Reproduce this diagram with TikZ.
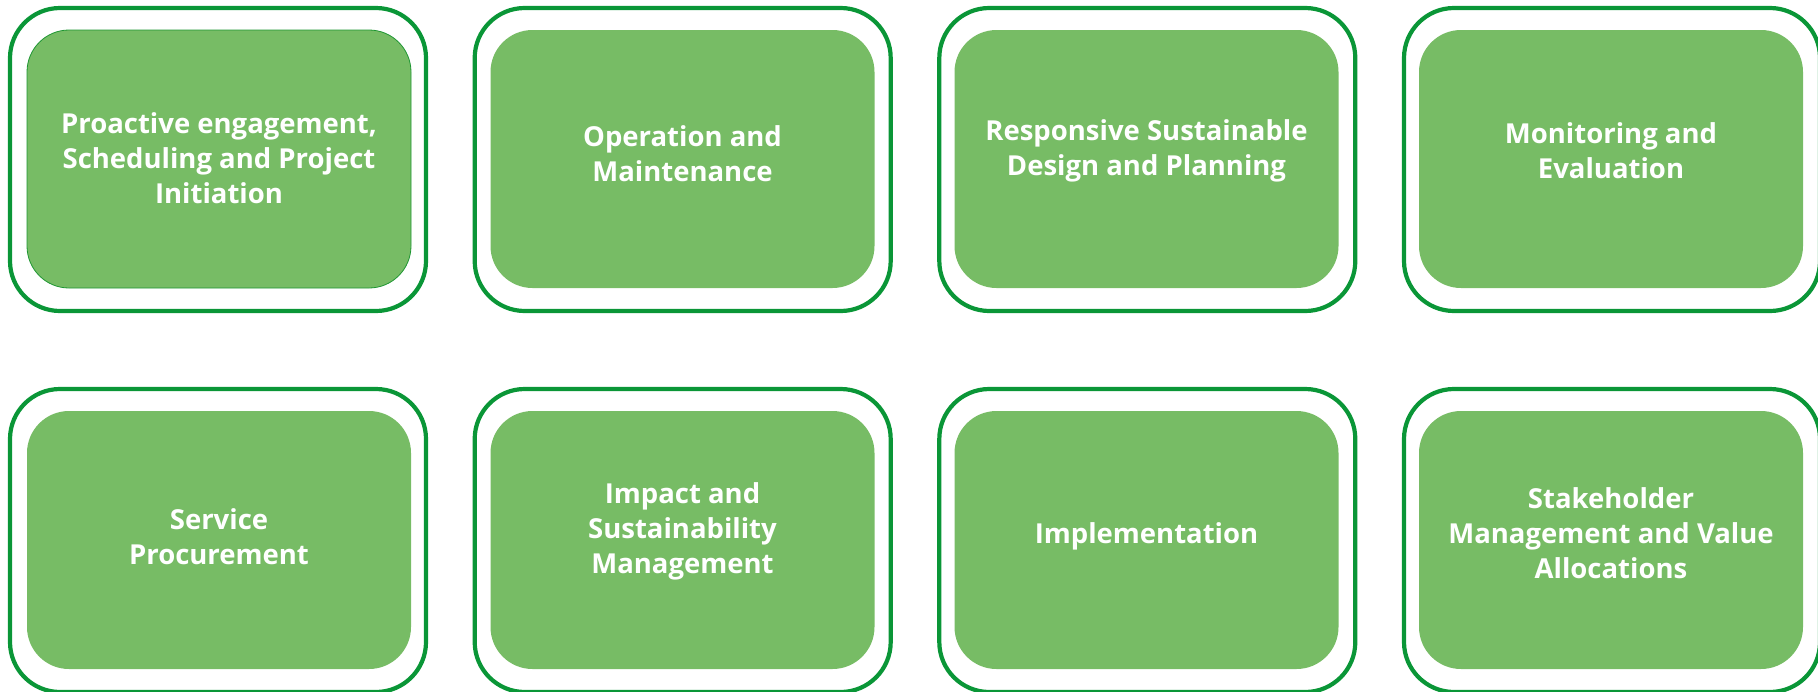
\documentclass[tikz,border=0pt]{standalone}
\usepackage{fontspec}
\setmainfont{Open Sans}
\definecolor{boxfill}{RGB}{119,188,101}
\definecolor{ringgreen}{RGB}{10,150,55}
\definecolor{edgegreen}{RGB}{30,150,50}
\begin{document}
\begin{tikzpicture}[x=1pt,y=-1pt,
  ring/.style={draw=ringgreen,line width=4.2pt,rounded corners=50pt,minimum width=416pt,minimum height=303pt,inner sep=0pt,outer sep=0pt},
  card/.style={fill=boxfill,draw=none,rounded corners=42pt,minimum width=384pt,minimum height=258pt,inner sep=0pt,outer sep=0pt},
  label/.style={text=white,font=\fontsize{27.5}{35}\selectfont\bfseries,align=center,inner sep=0pt}]
\useasboundingbox (0,0) rectangle (1818,691);
% row 1
\node[ring] (r1) at (218,159.5) {};
\node[card,draw=edgegreen,line width=0.8pt] (c1) at (219,159) {};
\node[label] (t1) at (219,158) {Proactive engagement,\\Scheduling and Project\\Initiation};
\node[ring] (r2) at (682.7,159.5) {};
\node[card] (c2) at (682.5,159) {};
\node[label] (t2) at (682.5,153.5) {Operation and\\Maintenance};
\node[ring] (r3) at (1147.3,159.5) {};
\node[card] (c3) at (1146.5,159) {};
\node[label] (t3) at (1146.5,151) {Responsive Sustainable\\Design and Planning};
\node[ring] (r4) at (1612,159.5) {};
\node[card] (c4) at (1611,159) {};
\node[label] (t4) at (1611,151) {Monitoring and\\Evaluation};
% row 2
\node[ring] (r5) at (218,540.5) {};
\node[card] (c5) at (219,540) {};
\node[label] (t5) at (219,537) {Service\\Procurement};
\node[ring] (r6) at (682.7,540.5) {};
\node[card] (c6) at (682.5,540) {};
\node[label] (t6) at (682.5,531) {Impact and\\Sustainability\\Management};
\node[ring] (r7) at (1147.3,540.5) {};
\node[card] (c7) at (1146.5,540) {};
\node[label] (t7) at (1146.5,536) {Implementation};
\node[ring] (r8) at (1612,540.5) {};
\node[card] (c8) at (1611,540) {};
\node[label] (t8) at (1611,533) {Stakeholder\\Management and Value\\Allocations};
\end{tikzpicture}
\end{document}
